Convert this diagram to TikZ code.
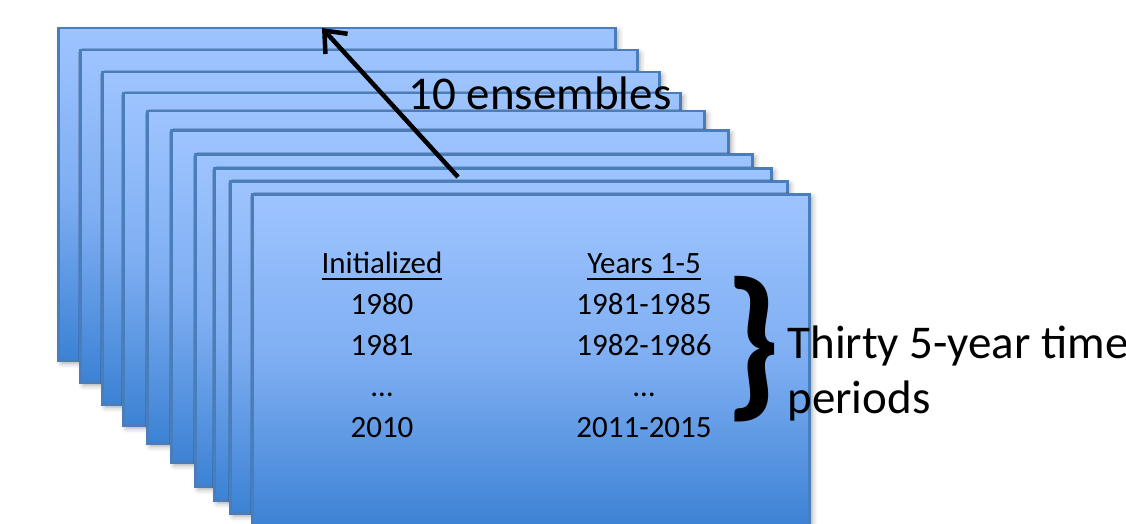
\documentclass[tikz,border=0pt]{standalone}
\usepackage{fontspec}
\setmainfont{Carlito}
\usetikzlibrary{positioning,arrows.meta,shadows.blur}
\definecolor{sheetTop}{RGB}{158,196,255}
\definecolor{sheetMid}{RGB}{126,174,242}
\definecolor{sheetBot}{RGB}{60,130,212}
\definecolor{sheetEdge}{RGB}{74,126,187}
\newsavebox{\headbox}
\newcommand{\ulhead}[1]{\sbox{\headbox}{#1}\rlap{\rule[-7.3pt]{\wd\headbox}{2.6pt}}\usebox{\headbox}}

\begin{document}
\begin{tikzpicture}[x=1pt, y=-1pt, line width=1pt, >={Straight Barb[length=18pt,width=30pt]},
    sheet/.style={draw=sheetEdge, line width=2.5pt, top color=sheetTop, bottom color=sheetBot, middle color=sheetMid,
        minimum width=557pt, minimum height=332pt, anchor=north west, inner sep=0pt,
        blur shadow={shadow xshift=3pt, shadow yshift=-3pt, shadow blur radius=5pt, shadow opacity=35}},
    cell/.style={anchor=base, inner sep=0pt, font=\fontsize{31}{37}\selectfont},
    big/.style={inner sep=0pt, font=\fontsize{47}{55}\selectfont}]
    \useasboundingbox (0,0) rectangle (1126,524);

    % stack of ensemble sheets, back to front
    \foreach \sx/\sy [count=\i] in {57/27, 79/49, 101/71, 122/92, 146/110, 170/129, 194/153, 213/167, 229/180, 251/193}
        \node[sheet] (sheet\i) at (\sx,\sy) {};

    % table on the front sheet
    \foreach \ini/\yrs [count=\r from 0] in {{\ulhead{Initialized}}/{\ulhead{Years 1-5}}, 1980/1981-1985, 1981/1982-1986, …/…, 2010/2011-2015} {
        \node[cell] (init\r) at (382,273+41*\r) {\ini};
        \node[cell] (yrs\r) at (644,273+41*\r) {\yrs};
    }

    \node[inner sep=0pt, font=\fontsize{166}{166}\selectfont\bfseries] (brace) at (753,349) {\}};
    \node[big, anchor=base west, align=left] (periodLabel) at (787,413) {Thirty 5-year time\\periods};

    \coordinate (arrowTail) at (458,177);
    \coordinate (arrowTip) at (322,28);
    \draw[->, line width=4.5pt] (arrowTail) -- (arrowTip);
    \node[big, anchor=base west] (ensLabel) at (408,110) {10 ensembles};

\end{tikzpicture}
\end{document}
